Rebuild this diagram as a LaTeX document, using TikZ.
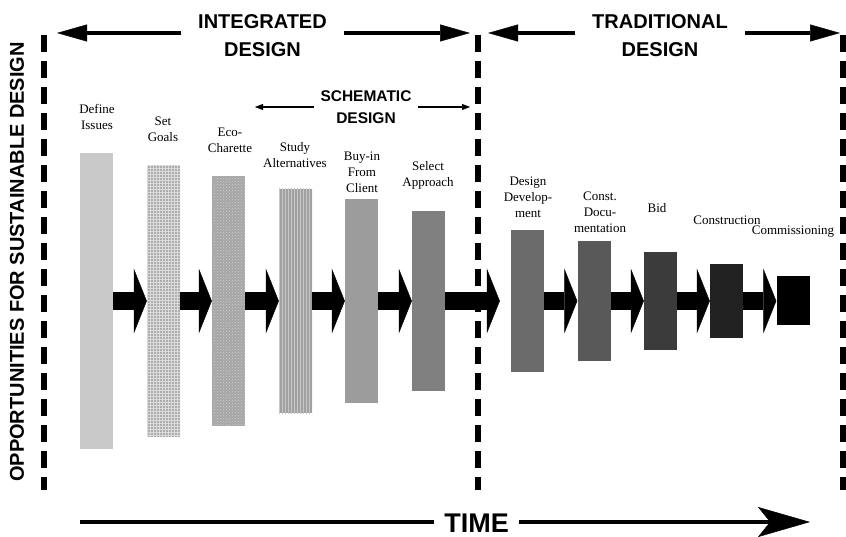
\documentclass[tikz,border=0pt]{standalone}
\usepackage{fontspec}
\setmainfont{Liberation Serif}
\setsansfont{Liberation Sans}
\usetikzlibrary{arrows.meta,patterns}

\tikzset{
  bar/.style={rectangle,inner sep=0pt,minimum width=33pt},
  stage/.style={align=center,font=\fontsize{13}{16}\selectfont},
  phase/.style={align=center,font=\sffamily\bfseries\fontsize{20}{28}\selectfont,inner xsep=17pt},
  subphase/.style={align=center,font=\sffamily\bfseries\fontsize{15.5}{21.5}\selectfont,inner xsep=6pt},
  phasearrow/.style={line width=4pt,-{Triangle[length=30pt,width=17pt,line width=0.5pt]}},
  subarrow/.style={line width=1.8pt,-{Triangle[length=8pt,width=6pt,line width=0.5pt]}},
  flow/.style={line width=18pt,-{Triangle[length=13pt,width=65pt,line width=0.5pt]}},
  divider/.style={line width=6pt,dash pattern=on 17pt off 9pt}
}

\begin{document}
\begin{tikzpicture}[x=1pt,y=-1pt]
\useasboundingbox (0,0) rectangle (846,537);

\draw[divider] (44,35) -- (44,490);
\draw[divider] (478,35) -- (478,490);
\draw[divider] (843,35) -- (843,490);

\node[rotate=90,font=\sffamily\bfseries\fontsize{20}{24}\selectfont] (opps) at (17,262) {OPPORTUNITIES FOR SUSTAINABLE DESIGN};

\node[phase] (integ) at (262.5,35.5) {INTEGRATED\\DESIGN};
\node[phase] (trad) at (660,35.5) {TRADITIONAL\\DESIGN};
\node[subphase] (schem) at (366,107) {SCHEMATIC\\DESIGN};
\coordinate (integL) at (57,33);
\coordinate (integR) at (470,33);
\coordinate (tradL) at (488,33);
\coordinate (tradR) at (840,33);
\coordinate (schemL) at (255,107);
\coordinate (schemR) at (470,107);
\draw[phasearrow] (integ.west|-integL) -- (integL);
\draw[phasearrow] (integ.east|-integR) -- (integR);
\draw[phasearrow] (trad.west|-tradL) -- (tradL);
\draw[phasearrow] (trad.east|-tradR) -- (tradR);
\draw[subarrow] (schem.west) -- (schemL);
\draw[subarrow] (schem.east) -- (schemR);

\node[bar,fill=black!21,minimum height=296pt] (issues) at (96.5,301) {};
\node[bar,fill=black!32,minimum height=271pt,postaction={pattern=grid,pattern color=black!14}] (goals) at (163.5,301) {};
\node[bar,fill=black!35,minimum height=249pt,postaction={pattern=crosshatch dots,pattern color=black!20}] (charette) at (228.5,301) {};
\node[bar,fill=black!37,minimum height=224pt,postaction={pattern=vertical lines,pattern color=black!22}] (study) at (295.5,301) {};
\node[bar,fill=black!39,minimum height=203pt] (buyin) at (361.5,301) {};
\node[bar,fill=black!50,minimum height=179pt] (approach) at (428.5,301) {};
\node[bar,fill=black!58,minimum height=142pt] (develop) at (527.5,301) {};
\node[bar,fill=black!65,minimum height=119pt] (docs) at (594,301) {};
\node[bar,fill=black!77,minimum height=97pt] (bid) at (660.5,301) {};
\node[bar,fill=black!87,minimum height=73pt] (build) at (726.5,301) {};
\node[bar,fill=black,minimum height=49pt] (commission) at (793,301) {};

\node[stage] (lissues) at (97,116.5) {Define\\Issues};
\node[stage] (lgoals) at (163,129.5) {Set\\Goals};
\node[stage] (lcharette) at (230,140.5) {Eco-\\Charette};
\node[stage] (lstudy) at (295,155) {Study\\Alternatives};
\node[stage] (lbuyin) at (362,172) {Buy-in\\From\\Client};
\node[stage] (lapproach) at (428,175) {Select\\Approach};
\node[stage] (ldevelop) at (528,197) {Design\\Develop-\\ment};
\node[stage] (ldocs) at (600,212) {Const.\\Docu-\\mentation};
\node[stage] (lbid) at (657,208) {Bid};
\node[stage] (lbuild) at (727,220) {Construction};
\node[stage] (lcommission) at (793,232) {Commissioning};

\draw[flow] (issues.east) -- (goals.west);
\draw[flow] (goals.east) -- (charette.west);
\draw[flow] (charette.east) -- (study.west);
\draw[flow] (study.east) -- (buyin.west);
\draw[flow] (buyin.east) -- (approach.west);
\draw[flow,shorten >=11pt] (approach.east) -- (develop.west);
\draw[flow] (develop.east) -- (docs.west);
\draw[flow] (docs.east) -- (bid.west);
\draw[flow] (bid.east) -- (build.west);
\draw[flow] (build.east) -- (commission.west);

\node[font=\sffamily\bfseries\fontsize{27}{30}\selectfont,inner xsep=10pt] (time) at (476.5,523) {TIME};
\coordinate (tstart) at (80,522);
\coordinate (tend) at (810,522);
\draw[line width=4pt] (time.west|-tstart) -- (tstart);
\draw[line width=4pt,-{Stealth[length=52pt,width=30pt,inset=12pt,line width=0.5pt]}] (time.east|-tend) -- (tend);
\end{tikzpicture}
\end{document}
